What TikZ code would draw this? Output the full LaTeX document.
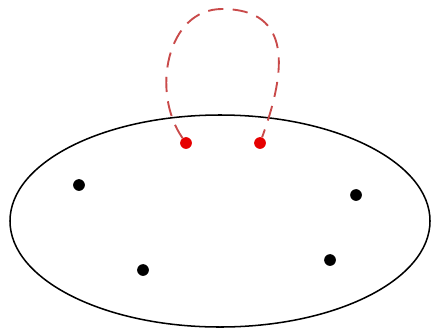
\documentclass[tikz,border=0pt]{standalone}
\usepackage{tikz}
\usetikzlibrary{shapes.geometric}
\definecolor{loopred}{HTML}{C94A4A}
\definecolor{dotred}{HTML}{E60000}

\begin{document}
\begin{tikzpicture}[x=0.03cm,y=-0.03cm,
  blob/.style={draw=black,line width=1.3pt,ellipse,inner sep=0pt,minimum width=12.6cm,minimum height=6.36cm},
  pt/.style={circle,fill=black,inner sep=0pt,minimum size=10pt},
  redpt/.style={pt,fill=dotred},
  loopline/.style={draw=loopred,line width=1.6pt,dash pattern=on 13pt off 8pt}]
  \useasboundingbox (0,0) rectangle (431,333);
  \node[blob] (set) at (220,221) {};
  \node[redpt] (l) at (186,143) {};
  \node[redpt] (r) at (260,143) {};
  \coordinate (top) at (222,9);
  \node[pt] (a) at (79,185) {};
  \node[pt] (b) at (356,195) {};
  \node[pt] (c) at (143,270) {};
  \node[pt] (d) at (330,260) {};
  \draw[loopline] (l) to[out=125,in=180,looseness=1.05] (top) to[out=0,in=70,looseness=1.35] (r);
\end{tikzpicture}
\end{document}
